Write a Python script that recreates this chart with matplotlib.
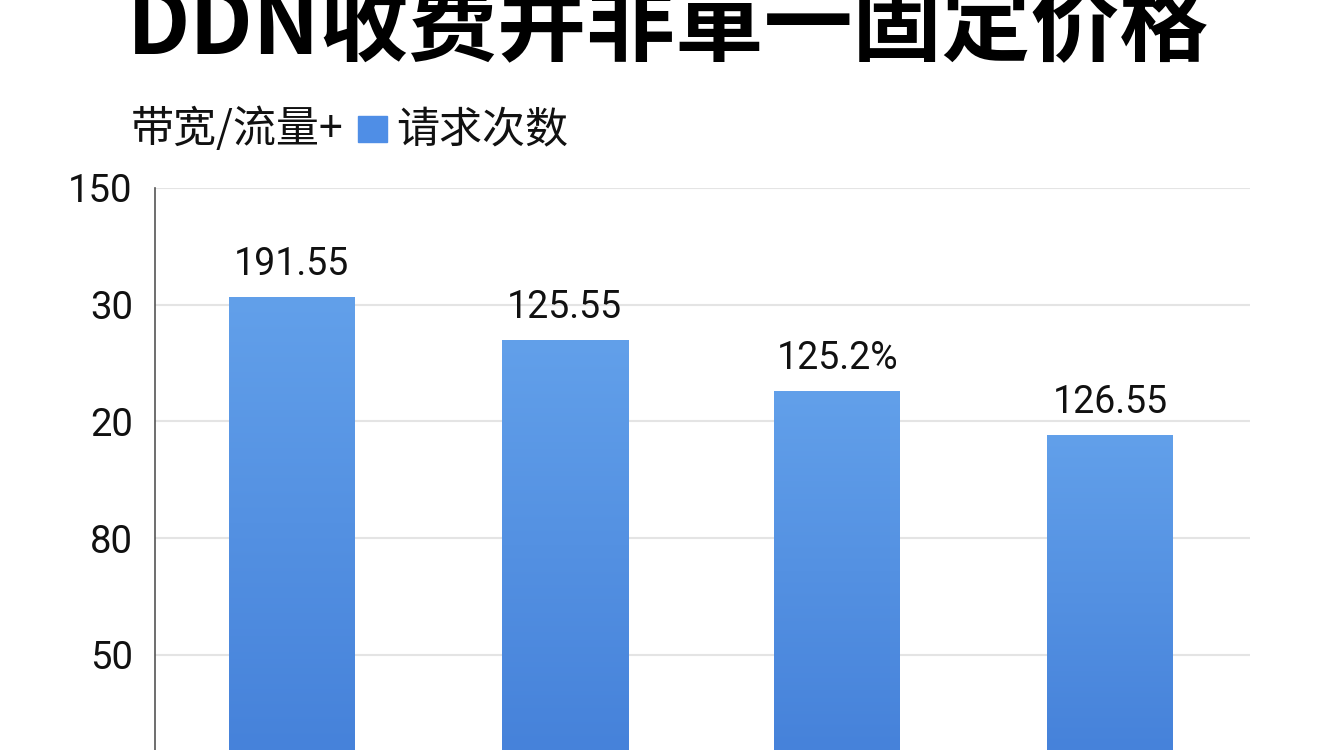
import numpy as np
import matplotlib
matplotlib.use('Agg')
import matplotlib.pyplot as plt
from matplotlib.colors import LinearSegmentedColormap
from matplotlib.patches import Rectangle

plt.rcParams['font.family'] = ['Noto Sans CJK SC', 'DejaVu Sans']

# values as drawn: tick slots are evenly spaced, bar tops measured on that scale
title = 'DDN收费并非單一固定价格'
legend_left = '带宽/流量+'
legend_right = '请求次数'
ytick_labels = ['50', '80', '20', '30', '150']      # bottom to top
bar_levels = [3.07, 2.70, 2.26, 1.88]
bar_labels = ['191.55', '125.55', '125.2%', '126.55']

fig = plt.figure(figsize=(13.44, 7.5), dpi=100)
fig.patch.set_facecolor('white')

ax = fig.add_axes([155 / 1344, 0.0, (1250 - 155) / 1344, 1 - 188 / 750])
ax.set_xlim(-0.502, 3.513)
ax.set_ylim(-0.814, 4.0)

x = np.arange(len(bar_levels))
bars = ax.bar(x, np.array(bar_levels) + 1.0, bottom=-1.0, width=0.462,
              color='#5590e2', zorder=2)

# soft vertical gradient inside each bar
cmap = LinearSegmentedColormap.from_list('bar', ['#4682da', '#62a0ea'])
grad = np.linspace(0, 1, 256).reshape(-1, 1)
for b in bars:
    x0, y0 = b.get_x(), b.get_y()
    im = ax.imshow(grad, cmap=cmap, aspect='auto', origin='lower',
                   extent=[x0, x0 + b.get_width(), -0.814, y0 + b.get_height()],
                   zorder=3)
    im.set_clip_path(b)

for xi, lvl, lab in zip(x, bar_levels, bar_labels):
    ax.text(xi, lvl + 0.12, lab, ha='center', va='bottom', fontsize=27,
            family=['Roboto', 'DejaVu Sans'], color='#111111', zorder=4)

ax.set_yticks(range(len(ytick_labels)))
ax.set_yticklabels(ytick_labels, fontsize=27.5, family=['Roboto', 'DejaVu Sans'],
                   color='#111111')
ax.tick_params(axis='y', length=0, pad=16)
ax.set_xticks([])
ax.yaxis.grid(True, color='#e4e4e4', lw=1.5, zorder=0)
ax.set_axisbelow(True)
for side in ['top', 'right', 'bottom']:
    ax.spines[side].set_visible(False)
ax.spines['left'].set_color('#555555')
ax.spines['left'].set_linewidth(1.2)

fig.text(0.497, 0.962, title, ha='center', va='center', fontsize=64,
         fontweight='heavy', color='#000000')

fig.text(131 / 1344, 1 - 130 / 750, legend_left, ha='left', va='center',
         fontsize=31, color='#111111')
fig.patches.append(Rectangle((358 / 1344, 1 - 142 / 750), 29 / 1344, 26 / 750,
                             transform=fig.transFigure, color='#4f8ee6'))
fig.text(396 / 1344, 1 - 130 / 750, legend_right, ha='left', va='center',
         fontsize=31, color='#111111')

fig.savefig('out.png', dpi=100, facecolor='white')
